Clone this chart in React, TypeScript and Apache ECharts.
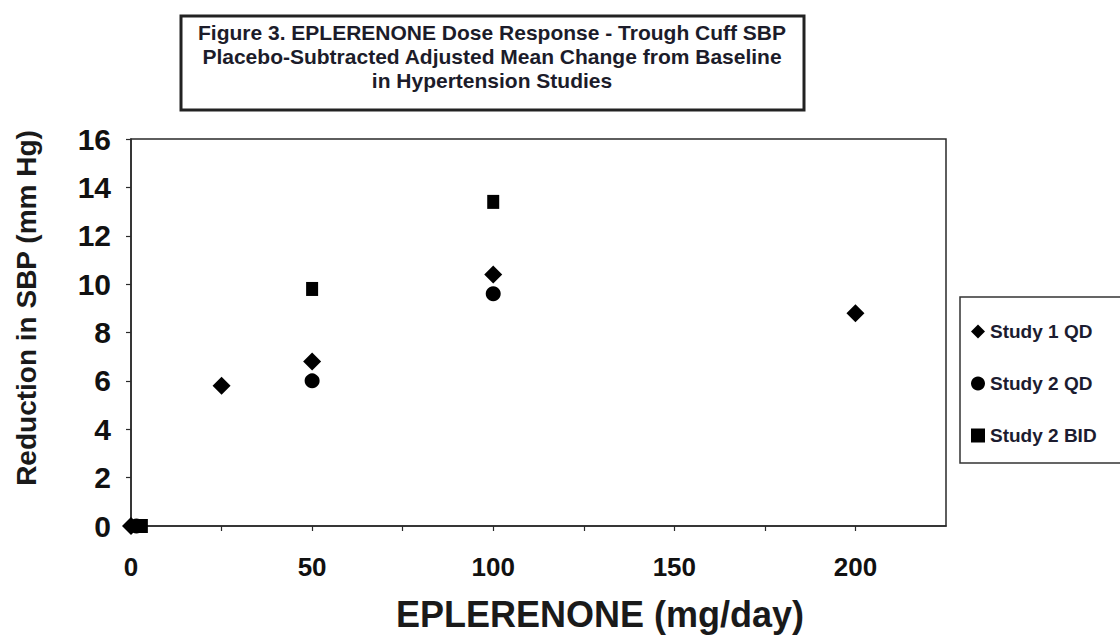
import React, { useEffect, useRef } from "react";
import * as echarts from "echarts";

const titleLines = [
  "Figure 3. EPLERENONE Dose Response - Trough Cuff SBP",
  "Placebo-Subtracted Adjusted Mean Change from Baseline",
  "in Hypertension Studies",
];
const xTitle = "EPLERENONE (mg/day)";
const yTitle = "Reduction in SBP (mm Hg)";

const study1QD: [number, number][] = [
  [0, 0],
  [25, 5.8],
  [50, 6.8],
  [100, 10.4],
  [200, 8.8],
];
const study2QD: [number, number][] = [
  [1.5, 0],
  [50, 6.0],
  [100, 9.6],
];
const study2BID: [number, number][] = [
  [3, 0],
  [50, 9.8],
  [100, 13.4],
];

const FONT = "'Liberation Sans', Arial, sans-serif";

export default function App() {
  const ref = useRef<HTMLDivElement>(null);
  useEffect(() => {
    if (!ref.current) return;
    const chart = echarts.init(ref.current, undefined, { renderer: "svg" });
    chart.setOption({
      animation: false,
      backgroundColor: "#ffffff",
      grid: {
        left: 131,
        top: 139,
        width: 815,
        height: 387,
        show: true,
        borderColor: "#2a2a2a",
        borderWidth: 1.5,
        containLabel: false,
      },
      xAxis: {
        type: "value",
        min: 0,
        max: 225,
        interval: 25,
        splitLine: { show: false },
        axisLine: { lineStyle: { color: "#2a2a2a", width: 1.5 } },
        axisTick: { show: true, length: 5, lineStyle: { color: "#2a2a2a", width: 1.2 } },
        axisLabel: {
          margin: 28,
          fontFamily: FONT,
          fontWeight: "bold",
          fontSize: 26,
          color: "#111",
          showMaxLabel: false,
          formatter: (v: number) => (v % 50 === 0 && v <= 200 ? String(v) : ""),
        },
      },
      yAxis: {
        type: "value",
        min: 0,
        max: 16,
        interval: 2,
        splitLine: { show: false },
        axisLine: { show: true, lineStyle: { color: "#2a2a2a", width: 1.5 } },
        axisTick: { show: true, length: 5, lineStyle: { color: "#2a2a2a", width: 1.2 } },
        axisLabel: {
          margin: 20,
          fontFamily: FONT,
          fontWeight: "bold",
          fontSize: 30,
          color: "#111",
        },
      },
      legend: {
        orient: "vertical",
        left: 966,
        top: 317,
        itemGap: 33,
        itemWidth: 14,
        itemHeight: 14,
        textStyle: { fontFamily: FONT, fontWeight: "bold", fontSize: 19, color: "#1c1c30" },
        data: ["Study 1 QD", "Study 2 QD", "Study 2 BID"],
      },
      graphic: [
        {
          type: "rect",
          shape: { x: 181, y: 16, width: 623, height: 94 },
          style: { fill: "#fff", stroke: "#222", lineWidth: 3 },
        },
        ...titleLines.map((t, i) => ({
          type: "text",
          x: 492,
          y: 32 + i * 24,
          style: {
            text: t,
            align: "center",
            verticalAlign: "middle",
            font: `bold 21px ${FONT}`,
            fill: "#1c1c2a",
          },
        })),
        {
          type: "rect",
          shape: { x: 960, y: 297, width: 170, height: 166 },
          style: { fill: "none", stroke: "#333", lineWidth: 1.5 },
        },
        {
          type: "text",
          x: 600,
          y: 614,
          style: {
            text: xTitle,
            align: "center",
            verticalAlign: "middle",
            font: `bold 36px ${FONT}`,
            fill: "#1a1a1a",
          },
        },
        {
          type: "text",
          x: 26,
          y: 308,
          rotation: Math.PI / 2,
          style: {
            text: yTitle,
            align: "center",
            verticalAlign: "middle",
            font: `bold 28px ${FONT}`,
            fill: "#1a1a1a",
          },
        },
      ],
      series: [
        {
          name: "Study 1 QD",
          type: "scatter",
          symbol: "diamond",
          symbolSize: [18, 18],
          itemStyle: { color: "#000", opacity: 1 },
          data: study1QD,
          z: 3,
        },
        {
          name: "Study 2 QD",
          type: "scatter",
          symbol: "circle",
          symbolSize: 15,
          itemStyle: { color: "#000", opacity: 1 },
          data: study2QD,
          z: 2,
        },
        {
          name: "Study 2 BID",
          type: "scatter",
          symbol: "rect",
          symbolSize: [12, 14],
          itemStyle: { color: "#000", opacity: 1 },
          data: study2BID,
          z: 2,
        },
      ],
    });
    return () => chart.dispose();
  }, []);
  return (
    <div
      ref={ref}
      style={{ position: "fixed", left: 0, top: 0, width: 1120, height: 639 }}
    />
  );
}
